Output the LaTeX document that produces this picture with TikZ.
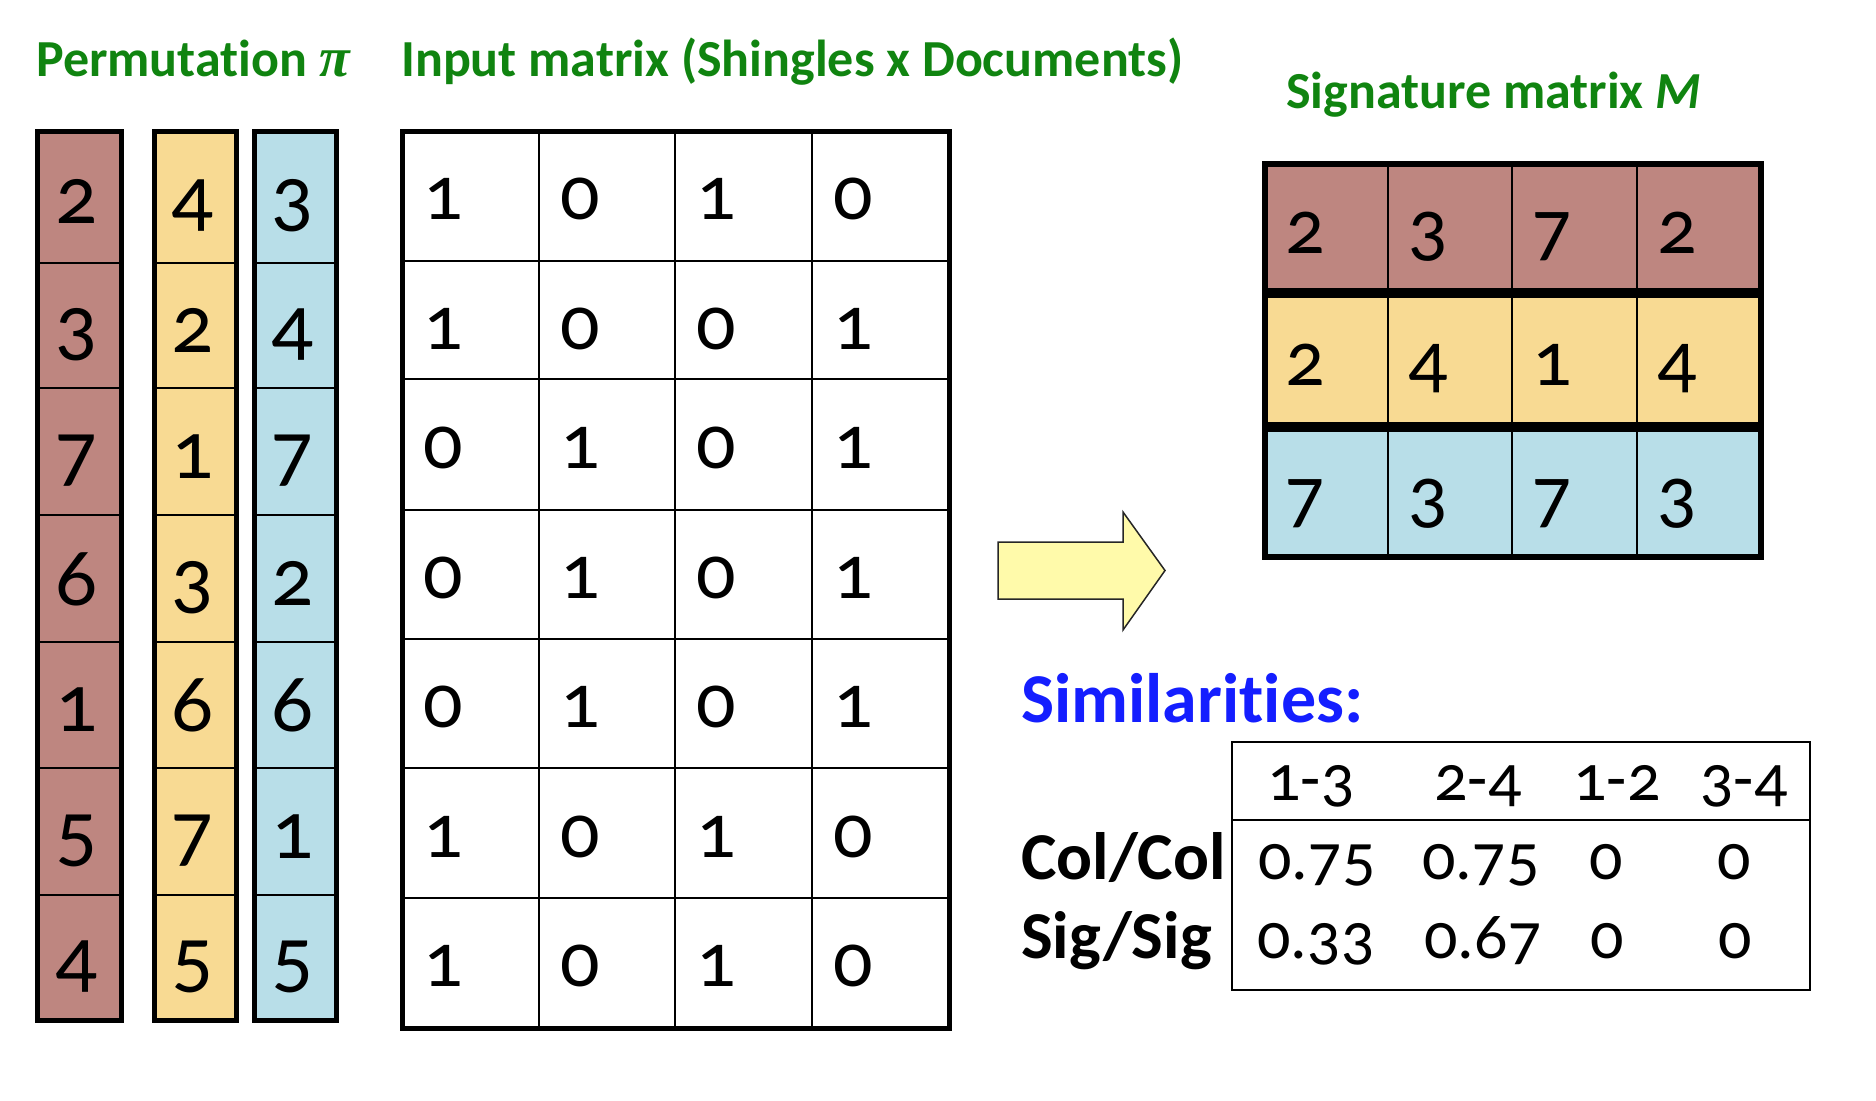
\documentclass[tikz,border=0pt]{standalone}
\usepackage{fontspec}
\setmainfont{Carlito}[Numbers=OldStyle, Ligatures=NoCommon]
\newfontfamily\pifont{Liberation Serif}
\definecolor{permred}{RGB}{190,134,128}
\definecolor{permyellow}{RGB}{248,218,147}
\definecolor{permblue}{RGB}{184,222,232}
\definecolor{titlegreen}{RGB}{16,132,16}
\definecolor{simblue}{RGB}{20,30,255}
\definecolor{arrowyellow}{RGB}{255,250,170}
\tikzset{
  pdig/.style={font=\fontsize{83}{83}\selectfont, inner sep=0pt, anchor=base},
  mdig/.style={font=\fontsize{78}{78}\selectfont, inner sep=0pt, anchor=base west},
  tval/.style={font=\fontsize{66}{66}\selectfont, inner sep=0pt, anchor=base},
  title/.style={font=\bfseries\fontsize{52}{52}\selectfont, text=titlegreen, inner sep=0pt, anchor=base west},
  rowlab/.style={font=\bfseries\fontsize{67}{67}\selectfont, inner sep=0pt, anchor=base west},
  thin/.style={line width=2pt},
  outer/.style={line width=5pt},
}
\begin{document}
\begin{tikzpicture}[x=1pt,y=-1pt]
\useasboundingbox (0,0) rectangle (1876,1100);
% titles
\node[title] (t1) at (36,76) {Permutation {\pifont\itshape\fontsize{56}{56}\selectfont π}};
\node[title] (t2) at (401,76) {Input matrix (Shingles x Documents)};
\node[title] (t3) at (1286,108) {Signature matrix \textit{M}};
% permutation columns
\def\pr{{131,263,388,515,642,768,895,1020}}
\def\pb{{223,352,478,605,731,858,984}}
\foreach \xa/\xb/\col/\nm/\vals in {37/121/permred/r/{2,3,7,6,1,5,4}, 154/236/permyellow/y/{4,2,1,3,6,7,5}, 254/336/permblue/b/{3,4,7,2,6,1,5}}{
  \fill[\col] (\xa,131) rectangle (\xb,1020);
  \foreach \i in {1,...,6}{
    \pgfmathsetmacro\yy{\pr[\i]}
    \draw[thin] (\xa,\yy) -- (\xb,\yy);
  }
  \pgfmathsetmacro\xc{(\xa+\xb)/2-2}
  \foreach \v [count=\i from 0] in \vals {
    \pgfmathsetmacro\yy{\pb[\i]}
    \node[pdig] (\nm\i) at (\xc,\yy) {\v};
  }
  \draw[outer] (\xa,131) rectangle (\xb,1020);
}
% input matrix
\def\ir{{131,261,379,510,639,768,898,1028}}
\def\ib{{219,349,468,598,727,857,986}}
\def\ic{{402,539,675,812}}
\foreach \i in {1,...,6}{
  \pgfmathsetmacro\yy{\ir[\i]}
  \draw[thin] (402,\yy) -- (949,\yy);
}
\foreach \x in {539,675,812}{ \draw[thin] (\x,131) -- (\x,1028); }
\draw[outer] (402,131) rectangle (949,1028);
\foreach \row [count=\i from 0] in {{1,0,1,0},{1,0,0,1},{0,1,0,1},{0,1,0,1},{0,1,0,1},{1,0,1,0},{1,0,1,0}}{
  \pgfmathsetmacro\yy{\ib[\i]}
  \foreach \v [count=\j from 0] in \row {
    \pgfmathsetmacro\xx{\ic[\j]+21}
    \node[mdig] (m\i\j) at (\xx,\yy) {\v};
  }
}
% arrow
\draw[fill=arrowyellow, draw=black!85, line width=1.5pt, line join=miter]
  (998,542) -- (1123,542) -- (1123,512) -- (1165,570.5) -- (1123,630) -- (1123,599) -- (998,599) -- cycle;
% signature matrix
\fill[permred] (1265,164) rectangle (1761,293);
\fill[permyellow] (1265,293) rectangle (1761,427);
\fill[permblue] (1265,427) rectangle (1761,557);
\foreach \x in {1388,1512,1637}{ \draw[thin] (\x,164) -- (\x,557); }
\draw[line width=10pt] (1265,293) -- (1761,293);
\draw[line width=10pt] (1265,427) -- (1761,427);
\draw[line width=6pt] (1265,164) rectangle (1761,557);
\def\sc{{1265,1388,1512,1637}}
\def\sb{{253,385,520}}
\foreach \row [count=\i from 0] in {{2,3,7,2},{2,4,1,4},{7,3,7,3}}{
  \pgfmathsetmacro\yy{\sb[\i]}
  \foreach \v [count=\j from 0] in \row {
    \pgfmathsetmacro\xx{\sc[\j]+20}
    \node[mdig] (s\i\j) at (\xx,\yy) {\v};
  }
}
% similarities
\node[font=\bfseries\fontsize{70}{70}\selectfont, text=simblue, inner sep=0pt, anchor=base west] (sim) at (1021,722) {Similarities:};
\draw[line width=2.5pt] (1232,742) rectangle (1810,990);
\draw[line width=2.5pt] (1232,820) -- (1810,820);
\foreach \t/\x [count=\j] in {1-3/1311, 2-4/1478, 1-2/1617, 3-4/1744}{
  \node[tval] (h\j) at (\x,800) {\t};
}
\node[rowlab] (cc) at (1021,879) {Col/Col};
\node[rowlab] (ss) at (1021,958) {Sig/Sig};
\foreach \t/\x [count=\j] in {0.75/1317, 0.75/1481, 0/1606, 0/1734}{
  \node[tval] (c\j) at (\x,879) {\t};
}
\foreach \t/\x [count=\j] in {0.33/1316, 0.67/1483, 0/1607, 0/1735}{
  \node[tval] (g\j) at (\x,958) {\t};
}
\end{tikzpicture}
\end{document}
